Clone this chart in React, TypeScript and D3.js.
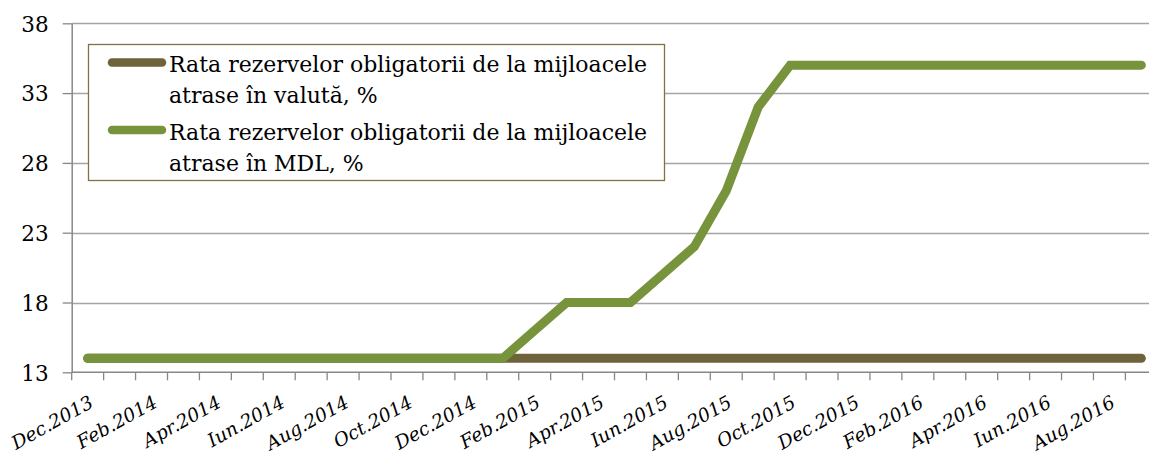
import React, { useEffect, useRef } from 'react';
import * as d3 from 'd3';

// months on the category axis (Dec.2013 .. Sep.2016)
const months = [
  'Dec.2013',
  'Ian.2014', 'Feb.2014', 'Mar.2014', 'Apr.2014', 'Mai.2014', 'Iun.2014',
  'Iul.2014', 'Aug.2014', 'Sep.2014', 'Oct.2014', 'Noi.2014', 'Dec.2014',
  'Ian.2015', 'Feb.2015', 'Mar.2015', 'Apr.2015', 'Mai.2015', 'Iun.2015',
  'Iul.2015', 'Aug.2015', 'Sep.2015', 'Oct.2015', 'Noi.2015', 'Dec.2015',
  'Ian.2016', 'Feb.2016', 'Mar.2016', 'Apr.2016', 'Mai.2016', 'Iun.2016',
  'Iul.2016', 'Aug.2016', 'Sep.2016',
];

// only every second month gets a label
const shownLabels = [
  'Dec.2013', 'Feb.2014', 'Apr.2014', 'Iun.2014', 'Aug.2014', 'Oct.2014',
  'Dec.2014', 'Feb.2015', 'Apr.2015', 'Iun.2015', 'Aug.2015', 'Oct.2015',
  'Dec.2015', 'Feb.2016', 'Apr.2016', 'Iun.2016', 'Aug.2016',
];

const valutaRate = [
  14,
  14, 14, 14, 14, 14, 14, 14, 14, 14, 14, 14, 14,
  14, 14, 14, 14, 14, 14, 14, 14, 14, 14, 14, 14,
  14, 14, 14, 14, 14, 14, 14, 14, 14,
];

const mdlRate = [
  14,
  14, 14, 14, 14, 14, 14, 14, 14, 14, 14, 14, 14,
  14, 16, 18, 18, 18, 20, 22, 26, 32, 35, 35, 35,
  35, 35, 35, 35, 35, 35, 35, 35, 35,
];

const yTicks = [13, 18, 23, 28, 33, 38];

const seriesNames = [
  ['Rata rezervelor obligatorii de la mijloacele', 'atrase în valută, %'],
  ['Rata rezervelor obligatorii de la mijloacele', 'atrase în MDL, %'],
];

const colors = ['#6E633A', '#77933C'];

const App: React.FC = () => {
  const svgRef = useRef<SVGSVGElement | null>(null);

  useEffect(() => {
    if (!svgRef.current) return;

    const width = 1149;
    const height = 459;
    const left = 71.7;
    const step = 31.93;
    const bottom = 372.3;
    const top = 23.3;
    const font = '"DejaVu Serif", serif';

    const svg = d3.select(svgRef.current);
    svg.selectAll('*').remove();

    const x = d3.scaleBand<string>()
      .domain(months)
      .range([left, left + step * months.length])
      .padding(0);

    const y = d3.scaleLinear()
      .domain([13, 38])
      .range([bottom, top]);

    const cx = (m: string) => x(m)! + x.bandwidth() / 2;

    // horizontal gridlines
    svg.append('g')
      .selectAll('line')
      .data(yTicks.filter(t => t !== 13))
      .join('line')
      .attr('x1', left)
      .attr('x2', width)
      .attr('y1', d => Math.round(y(d)) + 0.5)
      .attr('y2', d => Math.round(y(d)) + 0.5)
      .attr('stroke', '#A5A5A5')
      .attr('stroke-width', 1.3);

    // y axis
    const yAxis = svg.append('g')
      .attr('transform', `translate(${left},0)`)
      .call(d3.axisLeft(y).tickValues(yTicks).tickSize(9).tickPadding(14).tickSizeOuter(0));
    yAxis.select('.domain').attr('stroke', '#878787').attr('stroke-width', 1.5);
    yAxis.selectAll('.tick line').attr('stroke', '#878787').attr('stroke-width', 1.3);
    yAxis.selectAll('.tick text')
      .attr('font-family', font)
      .attr('font-size', 21.5)
      .attr('fill', '#000')
      .attr('dy', '0.36em');

    // x axis line + boundary ticks
    svg.append('line')
      .attr('x1', left)
      .attr('x2', width)
      .attr('y1', bottom)
      .attr('y2', bottom)
      .attr('stroke', '#878787')
      .attr('stroke-width', 1.5);

    const bounds = months.map(m => x(m)!);
    svg.append('g')
      .selectAll('line')
      .data(bounds)
      .join('line')
      .attr('x1', d => d)
      .attr('x2', d => d)
      .attr('y1', bottom)
      .attr('y2', bottom + 8)
      .attr('stroke', '#878787')
      .attr('stroke-width', 1.3);

    // size the italic labels so "Dec.2013" is about as long as in the original
    const probe = svg.append('text')
      .attr('font-family', font)
      .attr('font-style', 'italic')
      .attr('font-size', 19)
      .text(shownLabels[0]);
    const probeLen = (probe.node() as SVGTextElement).getComputedTextLength() || 88;
    probe.remove();
    const labelSize = Math.max(16, Math.min(22, 19 * 90 / probeLen));

    // rotated category labels
    svg.append('g')
      .selectAll('text')
      .data(shownLabels)
      .join('text')
      .attr('transform', d => `translate(${cx(d) + 7},${bottom + 34}) rotate(-29)`)
      .attr('text-anchor', 'end')
      .attr('font-family', font)
      .attr('font-style', 'italic')
      .attr('font-size', labelSize)
      .attr('fill', '#000')
      .text(d => d);

    // lines
    const line = d3.line<number>()
      .x((_, i) => cx(months[i]))
      .y(d => y(d));

    [valutaRate, mdlRate].forEach((s, i) => {
      svg.append('path')
        .datum(s)
        .attr('d', line)
        .attr('fill', 'none')
        .attr('stroke', colors[i])
        .attr('stroke-width', 9)
        .attr('stroke-linejoin', 'miter')
        .attr('stroke-linecap', 'round');
    });

    // legend
    const lg = svg.append('g');
    lg.append('rect')
      .attr('x', 88.5)
      .attr('y', 44.5)
      .attr('width', 576)
      .attr('height', 136)
      .attr('fill', '#fff')
      .attr('stroke', '#7E7346')
      .attr('stroke-width', 1.3);

    const rows = [62.5, 130];
    seriesNames.forEach((lines, i) => {
      lg.append('line')
        .attr('x1', 112)
        .attr('x2', 162)
        .attr('y1', rows[i])
        .attr('y2', rows[i])
        .attr('stroke', colors[i])
        .attr('stroke-width', 8.5)
        .attr('stroke-linecap', 'round');
      lines.forEach((t, j) => {
        lg.append('text')
          .attr('x', 169)
          .attr('y', rows[i] + 9.5 + j * 31)
          .attr('font-family', font)
          .attr('font-size', 22)
          .attr('fill', '#000')
          .text(t);
      });
    });

    svg.attr('width', width).attr('height', height);
  }, []);

  return (
    <svg
      ref={svgRef}
      width={1149}
      height={459}
      style={{ position: 'absolute', left: 0, top: 0, background: '#fff' }}
    />
  );
};

export default App;
